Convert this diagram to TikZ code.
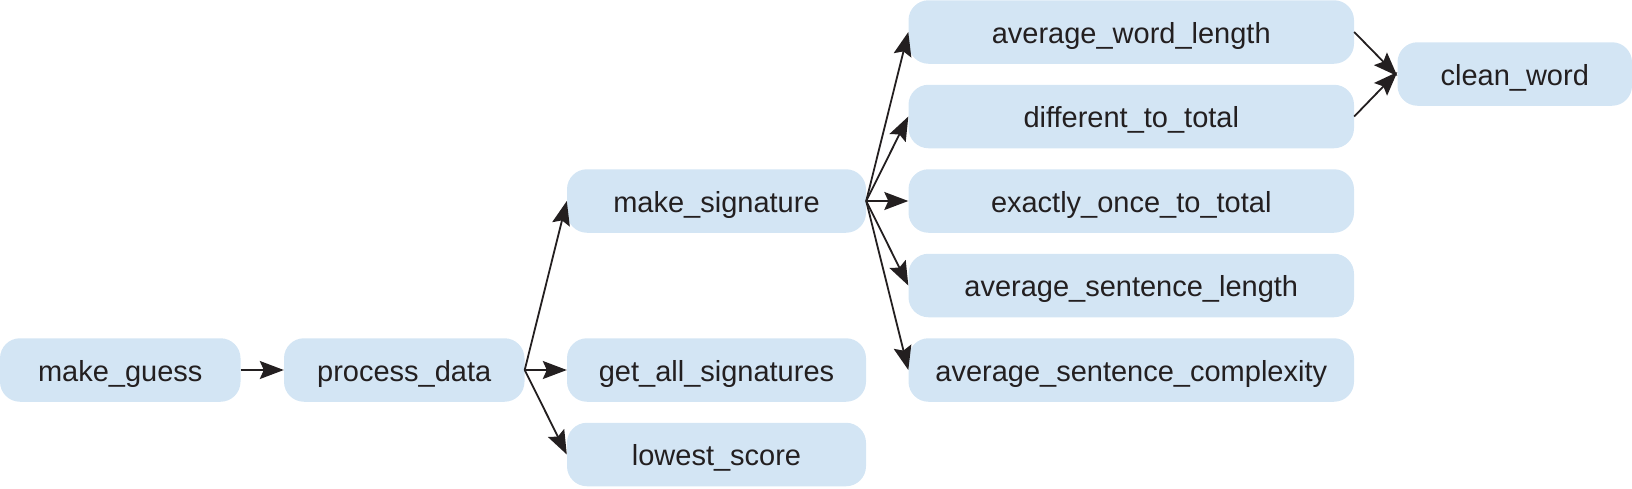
\documentclass[tikz,border=0pt]{standalone}
\usepackage{fontspec}
\setmainfont{Liberation Sans}
\usetikzlibrary{arrows.meta}
\definecolor{boxfill}{RGB}{211,229,244}
\definecolor{ink}{RGB}{35,31,32}
\begin{document}
\begin{tikzpicture}[x=1pt,y=-1pt,
  fn/.style={draw=none,fill=boxfill,rounded corners=20pt,inner sep=0pt,
    minimum height=63.5pt,text height=22pt,text depth=0pt,text=ink,font=\fontsize{29}{34}\selectfont},
  c1/.style={fn,minimum width=240.5pt},
  c3/.style={fn,minimum width=299pt},
  c4/.style={fn,minimum width=445.5pt},
  c5/.style={fn,minimum width=234.5pt},
  link/.style={draw=ink,line width=1.8pt,-{Stealth[length=24pt,width=18pt,inset=4pt]}}]
\useasboundingbox (0,0) rectangle (1632,488);
\node[c1] (mg) at (120.25,370) {make\_guess};
\node[c1] (pd) at (404.25,370) {process\_data};
\node[c3] (ms) at (716.5,201) {make\_signature};
\node[c3] (gas) at (716.5,370) {get\_all\_signatures};
\node[c3] (ls) at (716.5,454.5) {lowest\_score};
\node[c4] (awl) at (1131.25,32) {average\_word\_length};
\node[c4] (dtt) at (1131.25,116.5) {different\_to\_total};
\node[c4] (eot) at (1131.25,201) {exactly\_once\_to\_total};
\node[c4] (asl) at (1131.25,285.5) {average\_sentence\_length};
\node[c4] (asc) at (1131.25,370) {average\_sentence\_complexity};
\node[c5] (cw) at (1514.75,74) {clean\_word};
\draw[link] (mg.east) -- (pd.west);
\draw[link] (pd.east) -- (ms.west);
\draw[link] (pd.east) -- (gas.west);
\draw[link] (pd.east) -- (ls.west);
\draw[link] (ms.east) -- (awl.west);
\draw[link] (ms.east) -- (dtt.west);
\draw[link] (ms.east) -- (eot.west);
\draw[link] (ms.east) -- (asl.west);
\draw[link] (ms.east) -- (asc.west);
\draw[link] (awl.east) -- ([yshift=-2pt]cw.west);
\draw[link] (dtt.east) -- ([yshift=2pt]cw.west);
\end{tikzpicture}
\end{document}
